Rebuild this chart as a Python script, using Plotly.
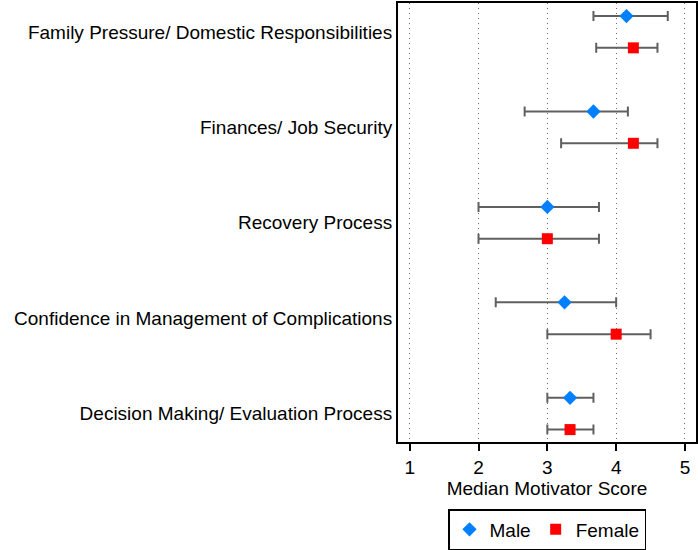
import plotly.graph_objects as go

categories = [
    "Family Pressure/ Domestic Responsibilities",
    "Finances/ Job Security",
    "Recovery Process",
    "Confidence in Management of Complications",
    "Decision Making/ Evaluation Process",
]
male_median = [4.15, 3.67, 3.0, 3.25, 3.33]
male_lo = [3.67, 2.67, 2.0, 2.25, 3.0]
male_hi = [4.75, 4.17, 3.75, 4.0, 3.67]
female_median = [4.25, 4.25, 3.0, 4.0, 3.33]
female_lo = [3.71, 3.2, 2.0, 3.0, 3.0]
female_hi = [4.6, 4.6, 3.75, 4.5, 3.67]
x_ticks = [1, 2, 3, 4, 5]

FONT = "Liberation Sans, Arial, Helvetica, sans-serif"
n = len(categories)
male_y = [3 * i for i in range(n)]
female_y = [3 * i + 1 for i in range(n)]
label_y = [3 * i + 0.5 for i in range(n)]

err_style = dict(type="data", symmetric=False, color="rgb(96,96,96)", thickness=2, width=5)

fig = go.Figure()
fig.add_trace(go.Scatter(
    x=male_median, y=male_y, mode="markers", name="Male",
    marker=dict(symbol="diamond", size=11, color="rgb(0,128,255)"),
    error_x=dict(array=[h - m for h, m in zip(male_hi, male_median)],
                 arrayminus=[m - l for m, l in zip(male_median, male_lo)], **err_style),
))
fig.add_trace(go.Scatter(
    x=female_median, y=female_y, mode="markers", name="Female",
    marker=dict(symbol="square", size=11, color="rgb(255,0,0)"),
    error_x=dict(array=[h - m for h, m in zip(female_hi, female_median)],
                 arrayminus=[m - l for m, l in zip(female_median, female_lo)], **err_style),
))

fig.update_layout(
    width=698, height=550,
    margin=dict(l=398, r=0, t=3, b=108),
    plot_bgcolor="white", paper_bgcolor="white",
    font=dict(family=FONT, size=19, color="black"),
    showlegend=True,
    legend=dict(orientation="h", x=0.5, xanchor="center", y=-0.153, yanchor="top",
                bordercolor="black", borderwidth=1.5, font=dict(size=19)),
    xaxis=dict(
        range=[0.83, 5.16], tickvals=x_ticks, ticks="outside", ticklen=7, tickwidth=1.5,
        tickcolor="black", showline=True, linecolor="black", linewidth=2, mirror=True,
        showgrid=True, gridcolor="rgb(110,110,110)", griddash="1px,4px", gridwidth=1,
        zeroline=False, tickfont=dict(size=19),
        title=dict(text="Median Motivator Score", font=dict(size=19), standoff=4),
    ),
    yaxis=dict(
        range=[13.39, -0.41], tickvals=label_y, ticktext=categories, ticks="",
        showline=True, linecolor="black", linewidth=2, mirror=True,
        showgrid=False, zeroline=False, tickfont=dict(size=19),
    ),
)

fig.write_html("out.html", config={"displayModeBar": False},
               post_script="document.body.style.margin='0';")
